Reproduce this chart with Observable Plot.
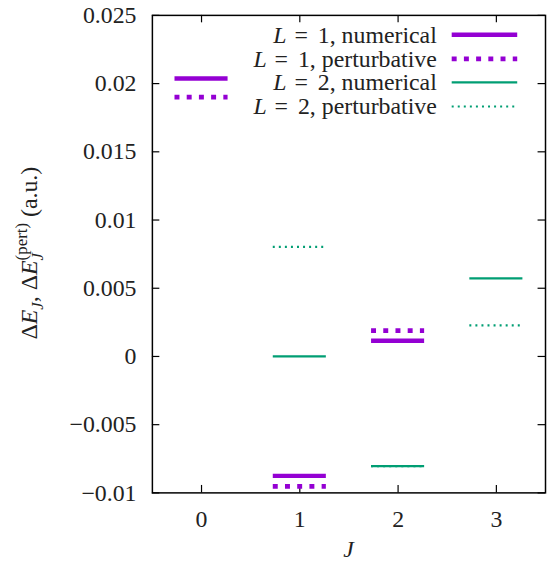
<!DOCTYPE html>
<html>
<head>
<meta charset="utf-8">
<script src="https://cdn.jsdelivr.net/npm/d3@7"></script>
<script src="https://cdn.jsdelivr.net/npm/@observablehq/plot@0.6"></script>
<style>
  html, body { margin: 0; padding: 0; overflow: hidden; background: #fff; }
  #chart svg { display: block; }
  #chart svg, #chart svg text { font-family: "Liberation Serif", "Times New Roman", Times, serif !important; }
</style>
</head>
<body>
<div id="chart"></div>
<script>
// ---- data ----
const J = [0, 1, 2, 3];
const jL1 = [0, 1, 2];
const l1Numerical = [0.02037, -0.00875, 0.00115];
const l1Perturbative = [0.01901, -0.00952, 0.00190];
const jL2 = [1, 2, 3];
const l2Numerical = [0.0, -0.00804, 0.00573];
const l2Perturbative = [0.00803, -0.00804, 0.00228];
const yTickValues = [-0.01, -0.005, 0, 0.005, 0.01, 0.015, 0.02, 0.025];
const yTickLabels = ["−0.01", "−0.005", "0", "0.005", "0.01", "0.015", "0.02", "0.025"];
const xTickLabels = ["0", "1", "2", "3"];
const seriesL = ["1", "1", "2", "2"];
const seriesKind = ["numerical", "perturbative", "numerical", "perturbative"];

// ---- styles ----
const purple = "#9400d3";
const green = "#009e73";
const styles = [
  {stroke: purple, strokeWidth: 4.4, strokeDasharray: null},
  {stroke: purple, strokeWidth: 4.8, strokeDasharray: "5 7.3"},
  {stroke: green, strokeWidth: 2.2, strokeDasharray: null},
  {stroke: green, strokeWidth: 2.2, strokeDasharray: "2 4.1"}
];
const half = 0.27;
const rows = (js, vals) => js.map((j, i) => ({J: j, dE: vals[i]}));
const seriesData = [
  rows(jL1, l1Numerical),
  rows(jL1, l1Perturbative),
  rows(jL2, l2Numerical),
  rows(jL2, l2Perturbative)
];

const W = 551, H = 569, mL = 153, mR = 2, mT = 15, mB = 73;
const fw = W - mL - mR, fh = H - mT - mB;
const tk = 7.5;
const font = "Liberation Serif, Times New Roman, Times, serif";

const chart = Plot.plot({
  width: W, height: H,
  marginLeft: mL, marginRight: mR, marginTop: mT, marginBottom: mB,
  x: {domain: [-0.5, 3.5]},
  y: {domain: [-0.01, 0.025]},
  style: {fontFamily: font, fontSize: "24px", background: "#fff", color: "#000"},
  marks: [
    Plot.axisX(J, {tickSize: 0, tickPadding: 17, label: null,
      tickFormat: d => xTickLabels[J.indexOf(d)], fontSize: 24, fill: "#222"}),
    Plot.axisY(yTickValues, {tickSize: 0, tickPadding: 16, label: null,
      tickFormat: d => yTickLabels[yTickValues.indexOf(d)], fontSize: 24, fill: "#222"}),
    Plot.tickX(J, {x: d => d, insetTop: fh - tk, stroke: "#000", strokeWidth: 1.2}),
    Plot.tickX(J, {x: d => d, insetBottom: fh - tk, stroke: "#000", strokeWidth: 1.2}),
    Plot.tickY(yTickValues, {y: d => d, insetRight: fw - tk, stroke: "#000", strokeWidth: 1.2}),
    Plot.tickY(yTickValues, {y: d => d, insetLeft: fw - tk, stroke: "#000", strokeWidth: 1.2}),
    ...seriesData.map((data, k) => Plot.ruleY(data, {
      x1: d => d.J - half, x2: d => d.J + half, y: "dE",
      stroke: styles[k].stroke, strokeWidth: styles[k].strokeWidth,
      strokeDasharray: styles[k].strokeDasharray
    })),
    Plot.frame({stroke: "#000", strokeWidth: 1.5})
  ]
});
document.getElementById("chart").appendChild(chart);

// ---- legend, axis titles ----
const svg = d3.select(chart);
const leg = svg.append("g").attr("font-size", 24).attr("fill", "#222");
const legY = [35, 59.3, 83, 107.3];
seriesKind.forEach((kind, k) => {
  const t = leg.append("text").attr("x", 440).attr("y", legY[k]).attr("dy", "0.33em")
    .attr("text-anchor", "end");
  t.append("tspan").attr("font-style", "italic").text("L");
  t.append("tspan").attr("dx", 2).text(" =");
  t.append("tspan").attr("dx", 4).text(" " + seriesL[k] + ", " + kind);
  leg.append("line").attr("x1", 455).attr("x2", 521).attr("y1", legY[k]).attr("y2", legY[k])
    .attr("stroke", styles[k].stroke).attr("stroke-width", styles[k].strokeWidth)
    .attr("stroke-dasharray", styles[k].strokeDasharray);
});

// x title
svg.append("text").attr("x", mL + fw / 2).attr("y", 561).attr("text-anchor", "middle")
  .attr("font-size", 24).attr("font-style", "italic").attr("fill", "#222")
  .text("J");

// y title
const yt = svg.append("text").attr("transform", "translate(37,255) rotate(-90)")
  .attr("text-anchor", "middle").attr("font-size", 24).attr("fill", "#222");
yt.append("tspan").text("Δ");
yt.append("tspan").attr("font-style", "italic").text("E");
yt.append("tspan").attr("font-style", "italic").attr("font-size", 17).attr("dy", 6).text("J");
yt.append("tspan").attr("dy", -6).text(", Δ");
yt.append("tspan").attr("font-style", "italic").text("E");
yt.append("tspan").attr("font-style", "italic").attr("font-size", 17).attr("dy", 6).text("J");
yt.append("tspan").attr("font-size", 17).attr("dx", -7.5).attr("dy", -16).text("(pert)");
yt.append("tspan").attr("dy", 10).text(" (a.u.)");
</script>
</body>
</html>
